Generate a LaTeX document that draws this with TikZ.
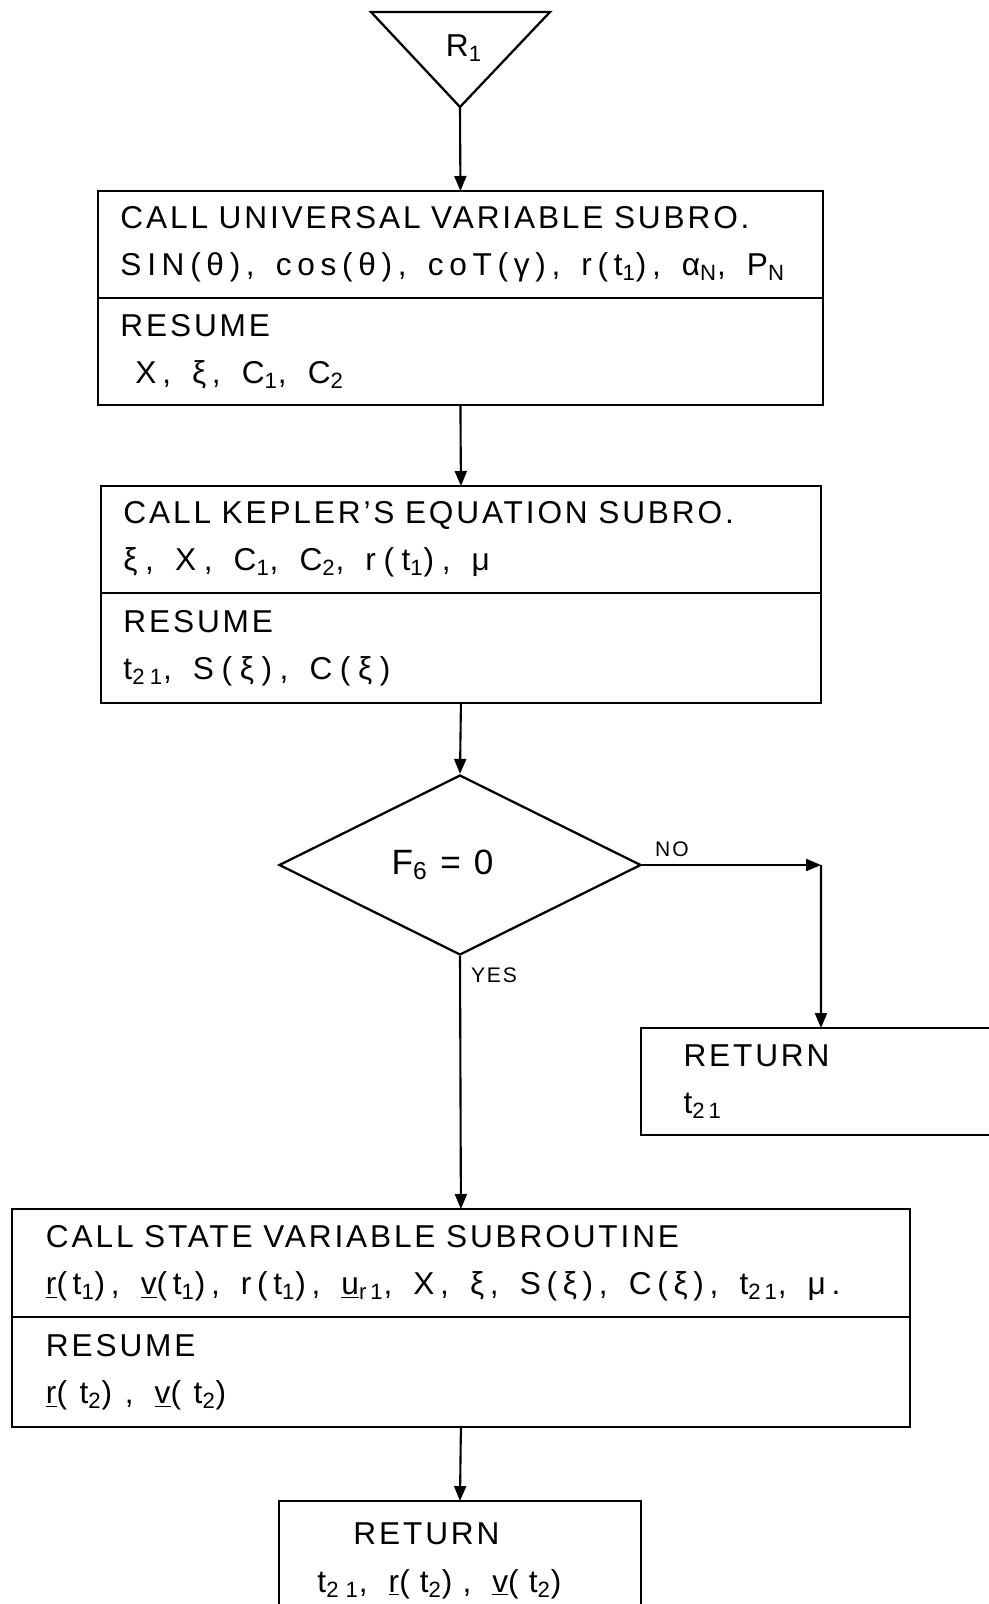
\documentclass[tikz,border=0pt]{standalone}
\usepackage{fontspec}
\setmainfont{Liberation Sans}[LetterSpace=9]
\usetikzlibrary{arrows.meta, positioning, shapes.geometric}
\newcommand{\subs}[1]{\textsubscript{#1}}
\newcommand{\data}[1][18]{\addfontfeatures{LetterSpace=#1}\spaceskip=12pt\relax}

\begin{document}
\begin{tikzpicture}[x=0.02cm, y=-0.02cm,
    font=\fontsize{18}{27}\selectfont,
    flow/.style={-{Triangle[length=0.3cm, width=0.24cm]}, line width=1.2pt},
    part/.style={draw, line width=1.3pt, rectangle, anchor=north west, align=left,
        inner xsep=0.45cm, inner ysep=0pt, outer sep=0pt},
    test/.style={draw, line width=1.3pt, diamond, inner sep=0pt,
        minimum width=7.24cm, minimum height=3.6cm},
    lbl/.style={font=\fontsize{12}{14}\selectfont},
]

\clip (0,0) rectangle (989,1604);

% --- entrada R1 ---
\draw[line width=1.3pt] (371,12) -- (550,12) -- (460,107) -- cycle;
\coordinate (tip) at (460,107);
\node (r1) at (464,48) {R\subs{1}};

% --- universal variable ---
\node[part, minimum width=14.5cm, minimum height=2.14cm, text width=13.6cm] (uvcall) at (98,191)
    {CALL UNIVERSAL VARIABLE SUBRO.\\ {\data SIN(θ), cos(θ), coT(γ), r(t\subs{1}), α\subs{N}, P\subs{N}}};
\node[part, minimum width=14.5cm, minimum height=2.14cm, text width=13.6cm] (uvres) at (uvcall.south west)
    {RESUME\\ {\data\hspace*{0.3cm}X, ξ, C\subs{1}, C\subs{2}}};

% --- kepler ---
\node[part, minimum width=14.4cm, minimum height=2.14cm, text width=13.5cm] (kpcall) at (101,486)
    {CALL KEPLER'S EQUATION SUBRO.\\ {\data[24] ξ, X, C\subs{1}, C\subs{2}, r(t\subs{1}), μ}};
\node[part, minimum width=14.4cm, minimum height=2.2cm, text width=13.5cm] (kpres) at (kpcall.south west)
    {RESUME\\ {\data[24] t\subs{21}, S(ξ), C(ξ)}};

% --- test ---
\node[test] (dec) at (460,865) {\fontsize{20}{24}\selectfont F\subs{6} = 0\hspace*{0.7cm}};
\node[lbl] (no) at (672,849) {NO};
\node[lbl] (yes) at (494,975) {YES};
\coordinate (bend) at (821,865);

\node[part, minimum width=7.2cm, minimum height=2.14cm, inner xsep=0.85cm, text width=5.5cm] (ret1) at (641,1028)
    {RETURN\\ {\data t\subs{21}}};

% --- state variable ---
\node[part, minimum width=17.96cm, minimum height=2.16cm, inner xsep=0.68cm, text width=16.6cm] (svcall) at (12,1209)
    {CALL STATE VARIABLE SUBROUTINE\\ {\data \underline{r}(t\subs{1}), \underline{v}(t\subs{1}), r(t\subs{1}), \underline{u}\subs{r1}, X, ξ, S(ξ), C(ξ), t\subs{21}, μ.}};
\node[part, minimum width=17.96cm, minimum height=2.2cm, inner xsep=0.68cm, text width=16.6cm] (svres) at (svcall.south west)
    {RESUME\\ {\data[40] \underline{r}(t\subs{2}), \underline{v}(t\subs{2})}};

\node[part, minimum width=7.24cm, minimum height=2.4cm, inner xsep=0.76cm, text width=5.7cm] (ret2) at (279,1501)
    {\hspace*{0.72cm}RETURN\\ {\data[32] t\subs{21}, \underline{r}(t\subs{2}), \underline{v}(t\subs{2})}};

% --- conectores ---
\draw[flow] (tip) -- (uvcall.north);
\draw[flow] (uvres.south) -- (kpcall.north);
\draw[flow] (kpres.south) -- (dec.north);
\draw[flow] (dec.east) -- (bend);
\draw[flow] (bend) -- (ret1.north);
\draw[flow] (dec.south) -- (svcall.north);
\draw[flow] (svres.south) -- (ret2.north);

\end{tikzpicture}
\end{document}
